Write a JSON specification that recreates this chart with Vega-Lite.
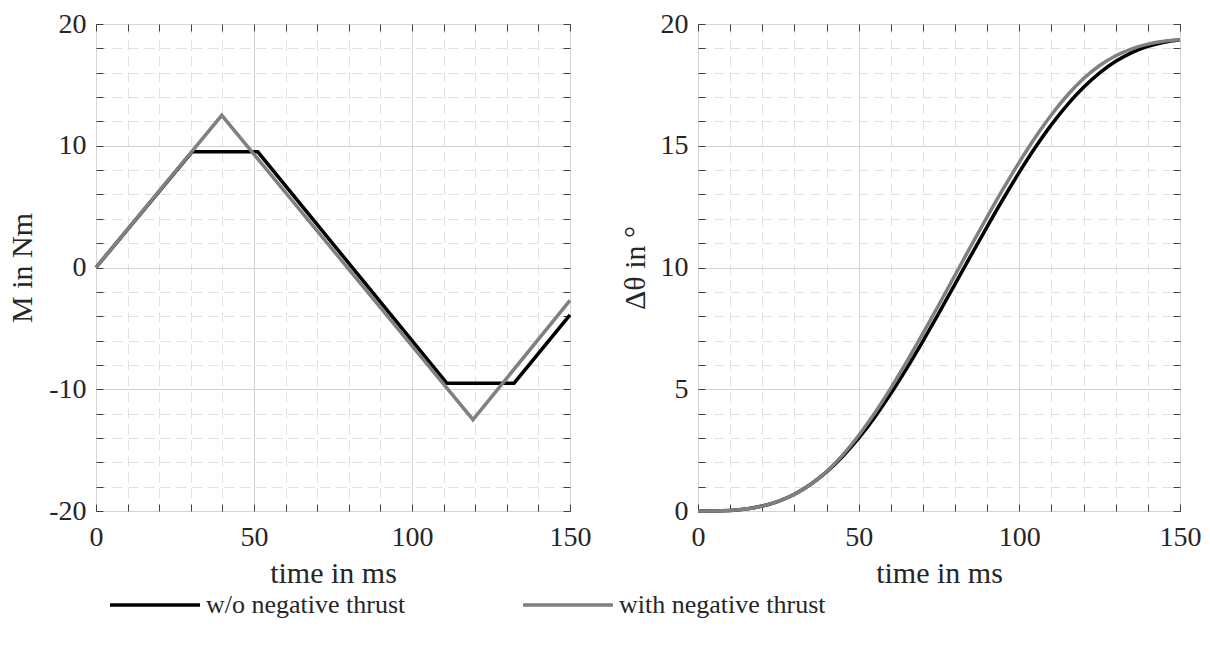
{
  "$schema": "https://vega.github.io/schema/vega-lite/v6.json",
  "padding": {"left": 7, "top": 9, "right": 5, "bottom": 5},
  "background": "white",
  "config": {
    "font": "Liberation Serif",
    "view": {"stroke": "#404040", "strokeWidth": 1},
    "axis": {
      "labelFont": "Liberation Serif", "labelFontSize": 28, "labelColor": "#262626", "labelFlush": false,
      "titleFont": "Liberation Serif", "titleFontSize": 30, "titleFontWeight": "normal", "titleColor": "#262626",
      "domain": false, "tickColor": "#404040", "tickSize": -7, "tickWidth": 1, "gridWidth": 1
    },
    "legend": {
      "symbolType": "stroke", "symbolSize": 8100, "symbolStrokeWidth": 3.5,
      "labelFont": "Liberation Serif", "labelFontSize": 26, "labelColor": "#262626", "labelLimit": 500,
      "labelOffset": 4, "columnPadding": 110, "padding": 0
    }
  },
  "datasets": {
    "M": [
      {"t": 0, "v": 0, "series": "w/o negative thrust"},
      {"t": 30.4, "v": 9.5, "series": "w/o negative thrust"},
      {"t": 51.2, "v": 9.5, "series": "w/o negative thrust"},
      {"t": 111, "v": -9.5, "series": "w/o negative thrust"},
      {"t": 132.3, "v": -9.5, "series": "w/o negative thrust"},
      {"t": 150, "v": -3.9, "series": "w/o negative thrust"},
      {"t": 0, "v": 0, "series": "with negative thrust"},
      {"t": 39.8, "v": 12.5, "series": "with negative thrust"},
      {"t": 119.3, "v": -12.5, "series": "with negative thrust"},
      {"t": 150, "v": -2.7, "series": "with negative thrust"}
    ],
    "theta": [
      {"t": 0, "v": 0, "series": "w/o negative thrust"},
      {"t": 5, "v": 0.003, "series": "w/o negative thrust"},
      {"t": 10, "v": 0.025, "series": "w/o negative thrust"},
      {"t": 15, "v": 0.086, "series": "w/o negative thrust"},
      {"t": 20, "v": 0.204, "series": "w/o negative thrust"},
      {"t": 25, "v": 0.398, "series": "w/o negative thrust"},
      {"t": 30, "v": 0.687, "series": "w/o negative thrust"},
      {"t": 35, "v": 1.089, "series": "w/o negative thrust"},
      {"t": 40, "v": 1.606, "series": "w/o negative thrust"},
      {"t": 45, "v": 2.24, "series": "w/o negative thrust"},
      {"t": 50, "v": 2.99, "series": "w/o negative thrust"},
      {"t": 55, "v": 3.854, "series": "w/o negative thrust"},
      {"t": 60, "v": 4.82, "series": "w/o negative thrust"},
      {"t": 65, "v": 5.869, "series": "w/o negative thrust"},
      {"t": 70, "v": 6.981, "series": "w/o negative thrust"},
      {"t": 75, "v": 8.137, "series": "w/o negative thrust"},
      {"t": 80, "v": 9.318, "series": "w/o negative thrust"},
      {"t": 85, "v": 10.506, "series": "w/o negative thrust"},
      {"t": 90, "v": 11.68, "series": "w/o negative thrust"},
      {"t": 95, "v": 12.823, "series": "w/o negative thrust"},
      {"t": 100, "v": 13.914, "series": "w/o negative thrust"},
      {"t": 105, "v": 14.935, "series": "w/o negative thrust"},
      {"t": 110, "v": 15.866, "series": "w/o negative thrust"},
      {"t": 115, "v": 16.69, "series": "w/o negative thrust"},
      {"t": 120, "v": 17.398, "series": "w/o negative thrust"},
      {"t": 125, "v": 17.99, "series": "w/o negative thrust"},
      {"t": 130, "v": 18.466, "series": "w/o negative thrust"},
      {"t": 135, "v": 18.826, "series": "w/o negative thrust"},
      {"t": 140, "v": 19.081, "series": "w/o negative thrust"},
      {"t": 145, "v": 19.249, "series": "w/o negative thrust"},
      {"t": 150, "v": 19.35, "series": "w/o negative thrust"},
      {"t": 0, "v": 0, "series": "with negative thrust"},
      {"t": 5, "v": 0.003, "series": "with negative thrust"},
      {"t": 10, "v": 0.025, "series": "with negative thrust"},
      {"t": 15, "v": 0.085, "series": "with negative thrust"},
      {"t": 20, "v": 0.202, "series": "with negative thrust"},
      {"t": 25, "v": 0.394, "series": "with negative thrust"},
      {"t": 30, "v": 0.681, "series": "with negative thrust"},
      {"t": 35, "v": 1.082, "series": "with negative thrust"},
      {"t": 40, "v": 1.615, "series": "with negative thrust"},
      {"t": 45, "v": 2.293, "series": "with negative thrust"},
      {"t": 50, "v": 3.103, "series": "with negative thrust"},
      {"t": 55, "v": 4.027, "series": "with negative thrust"},
      {"t": 60, "v": 5.046, "series": "with negative thrust"},
      {"t": 65, "v": 6.14, "series": "with negative thrust"},
      {"t": 70, "v": 7.291, "series": "with negative thrust"},
      {"t": 75, "v": 8.48, "series": "with negative thrust"},
      {"t": 80, "v": 9.688, "series": "with negative thrust"},
      {"t": 85, "v": 10.896, "series": "with negative thrust"},
      {"t": 90, "v": 12.085, "series": "with negative thrust"},
      {"t": 95, "v": 13.236, "series": "with negative thrust"},
      {"t": 100, "v": 14.33, "series": "with negative thrust"},
      {"t": 105, "v": 15.349, "series": "with negative thrust"},
      {"t": 110, "v": 16.273, "series": "with negative thrust"},
      {"t": 115, "v": 17.083, "series": "with negative thrust"},
      {"t": 120, "v": 17.761, "series": "with negative thrust"},
      {"t": 125, "v": 18.294, "series": "with negative thrust"},
      {"t": 130, "v": 18.694, "series": "with negative thrust"},
      {"t": 135, "v": 18.982, "series": "with negative thrust"},
      {"t": 140, "v": 19.174, "series": "with negative thrust"},
      {"t": 145, "v": 19.291, "series": "with negative thrust"},
      {"t": 150, "v": 19.35, "series": "with negative thrust"}
    ]
  },
  "spacing": 128,
  "bounds": "flush",
  "resolve": {"scale": {"color": "shared"}, "legend": {"color": "shared"}},
  "hconcat": [
    {
      "width": 474, "height": 487,
      "data": {"name": "M"},
      "resolve": {"axis": {"x": "independent", "y": "independent"}},
      "layer": [
        {
          "mark": {"type": "line", "strokeWidth": 3.5},
          "encoding": {
            "x": {"field": "t", "type": "quantitative", "scale": {"domain": [0, 150], "nice": false},
              "axis": {"orient": "bottom", "title": "time in ms", "values": [0,10,20,30,40,50,60,70,80,90,100,110,120,130,140,150],
                "labelExpr": "datum.value % 50 === 0 ? datum.label : ''", "labelPadding": 19, "titlePadding": 7,
                "gridColor": {"condition": {"test": "datum.value % 50 === 0", "value": "#d4d4d4"}, "value": "#e0e0e0"},
                "gridDash": {"condition": {"test": "datum.value % 50 === 0", "value": []}, "value": [10, 6]}}},
            "y": {"field": "v", "type": "quantitative", "scale": {"domain": [-20, 20], "nice": false},
              "axis": {"orient": "left", "title": "M in Nm", "values": [-20,-18,-16,-14,-12,-10,-8,-6,-4,-2,0,2,4,6,8,10,12,14,16,18,20],
                "labelExpr": "datum.value % 10 === 0 ? replace(datum.label, '−', '-') : ''", "labelPadding": 17, "titlePadding": 11,
                "gridColor": {"condition": {"test": "datum.value % 10 === 0", "value": "#d4d4d4"}, "value": "#e0e0e0"},
                "gridDash": {"condition": {"test": "datum.value % 10 === 0", "value": []}, "value": [10, 6]}}},
            "color": {"field": "series", "type": "nominal",
              "scale": {"domain": ["w/o negative thrust", "with negative thrust"], "range": ["#000000", "#808080"]},
              "legend": {"title": null, "orient": "none", "direction": "horizontal", "legendX": 12, "legendY": 534}}
          }
        },
        {
          "mark": {"type": "line", "opacity": 0},
          "encoding": {
            "x": {"field": "t", "type": "quantitative", "scale": {"domain": [0, 150], "nice": false},
              "axis": {"orient": "top", "title": null, "labels": false, "grid": false, "values": [0,10,20,30,40,50,60,70,80,90,100,110,120,130,140,150]}},
            "y": {"field": "v", "type": "quantitative", "scale": {"domain": [-20, 20], "nice": false},
              "axis": {"orient": "right", "title": null, "labels": false, "grid": false, "values": [-20,-18,-16,-14,-12,-10,-8,-6,-4,-2,0,2,4,6,8,10,12,14,16,18,20]}},
            "detail": {"field": "series"}
          }
        }
      ]
    },
    {
      "width": 482, "height": 487,
      "data": {"name": "theta"},
      "resolve": {"axis": {"x": "independent", "y": "independent"}},
      "layer": [
        {
          "mark": {"type": "line", "strokeWidth": 3.5, "interpolate": "monotone"},
          "encoding": {
            "x": {"field": "t", "type": "quantitative", "scale": {"domain": [0, 150], "nice": false},
              "axis": {"orient": "bottom", "title": "time in ms", "values": [0,10,20,30,40,50,60,70,80,90,100,110,120,130,140,150],
                "labelExpr": "datum.value % 50 === 0 ? datum.label : ''", "labelPadding": 19, "titlePadding": 7,
                "gridColor": {"condition": {"test": "datum.value % 50 === 0", "value": "#d4d4d4"}, "value": "#e0e0e0"},
                "gridDash": {"condition": {"test": "datum.value % 50 === 0", "value": []}, "value": [10, 6]}}},
            "y": {"field": "v", "type": "quantitative", "scale": {"domain": [0, 20], "nice": false},
              "axis": {"orient": "left", "title": "Δθ in °", "values": [0,1,2,3,4,5,6,7,8,9,10,11,12,13,14,15,16,17,18,19,20],
                "labelExpr": "datum.value % 5 === 0 ? datum.label : ''", "labelPadding": 17, "titlePadding": 10,
                "gridColor": {"condition": {"test": "datum.value % 5 === 0", "value": "#d4d4d4"}, "value": "#e0e0e0"},
                "gridDash": {"condition": {"test": "datum.value % 5 === 0", "value": []}, "value": [10, 6]}}},
            "color": {"field": "series", "type": "nominal",
              "scale": {"domain": ["w/o negative thrust", "with negative thrust"], "range": ["#000000", "#808080"]}}
          }
        },
        {
          "mark": {"type": "line", "opacity": 0},
          "encoding": {
            "x": {"field": "t", "type": "quantitative", "scale": {"domain": [0, 150], "nice": false},
              "axis": {"orient": "top", "title": null, "labels": false, "grid": false, "values": [0,10,20,30,40,50,60,70,80,90,100,110,120,130,140,150]}},
            "y": {"field": "v", "type": "quantitative", "scale": {"domain": [0, 20], "nice": false},
              "axis": {"orient": "right", "title": null, "labels": false, "grid": false, "values": [0,1,2,3,4,5,6,7,8,9,10,11,12,13,14,15,16,17,18,19,20]}},
            "detail": {"field": "series"}
          }
        }
      ]
    }
  ]
}
